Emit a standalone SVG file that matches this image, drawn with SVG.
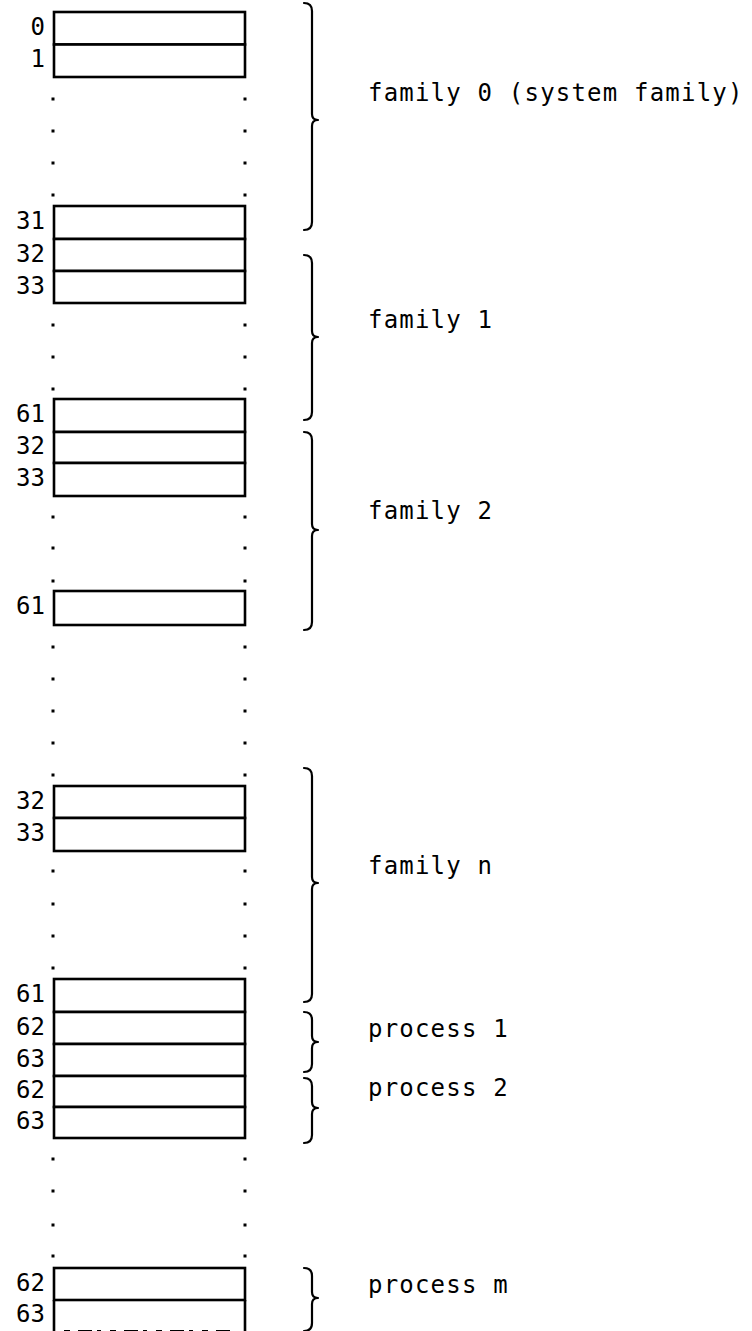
<svg xmlns="http://www.w3.org/2000/svg" width="752" height="1331" viewBox="0 0 752 1331">
<style>
.cell{fill:#fff;stroke:#000;stroke-width:2.6}
.num{font-family:"DejaVu Sans Mono","Liberation Mono",monospace;font-size:24px;text-anchor:end;fill:#000}
.lbl{font-family:"DejaVu Sans Mono","Liberation Mono",monospace;font-size:24px;letter-spacing:1.2px;fill:#000}
.dot{fill:#000}
.brace{fill:none;stroke:#000;stroke-width:2.2;stroke-linecap:round;stroke-linejoin:round}
</style>
<rect width="752" height="1331" fill="#fff"/>
<g id="dots">
<g class="dot">
<rect x="51.5" y="97.5" width="3" height="3"/><rect x="243.5" y="97.5" width="3" height="3"/>
<rect x="51.5" y="129.5" width="3" height="3"/><rect x="243.5" y="129.5" width="3" height="3"/>
<rect x="51.5" y="161.5" width="3" height="3"/><rect x="243.5" y="161.5" width="3" height="3"/>
<rect x="51.5" y="193.5" width="3" height="3"/><rect x="243.5" y="193.5" width="3" height="3"/>
<rect x="51.5" y="323.5" width="3" height="3"/><rect x="243.5" y="323.5" width="3" height="3"/>
<rect x="51.5" y="355.5" width="3" height="3"/><rect x="243.5" y="355.5" width="3" height="3"/>
<rect x="51.5" y="387.5" width="3" height="3"/><rect x="243.5" y="387.5" width="3" height="3"/>
<rect x="51.5" y="515.5" width="3" height="3"/><rect x="243.5" y="515.5" width="3" height="3"/>
<rect x="51.5" y="546.5" width="3" height="3"/><rect x="243.5" y="546.5" width="3" height="3"/>
<rect x="51.5" y="579.5" width="3" height="3"/><rect x="243.5" y="579.5" width="3" height="3"/>
<rect x="51.5" y="645.5" width="3" height="3"/><rect x="243.5" y="645.5" width="3" height="3"/>
<rect x="51.5" y="677.5" width="3" height="3"/><rect x="243.5" y="677.5" width="3" height="3"/>
<rect x="51.5" y="709.5" width="3" height="3"/><rect x="243.5" y="709.5" width="3" height="3"/>
<rect x="51.5" y="741.5" width="3" height="3"/><rect x="243.5" y="741.5" width="3" height="3"/>
<rect x="51.5" y="773.5" width="3" height="3"/><rect x="243.5" y="773.5" width="3" height="3"/>
<rect x="51.5" y="869.5" width="3" height="3"/><rect x="243.5" y="869.5" width="3" height="3"/>
<rect x="51.5" y="902.5" width="3" height="3"/><rect x="243.5" y="902.5" width="3" height="3"/>
<rect x="51.5" y="934.5" width="3" height="3"/><rect x="243.5" y="934.5" width="3" height="3"/>
<rect x="51.5" y="966.5" width="3" height="3"/><rect x="243.5" y="966.5" width="3" height="3"/>
<rect x="51.5" y="1157.5" width="3" height="3"/><rect x="243.5" y="1157.5" width="3" height="3"/>
<rect x="51.5" y="1189.5" width="3" height="3"/><rect x="243.5" y="1189.5" width="3" height="3"/>
<rect x="51.5" y="1223.5" width="3" height="3"/><rect x="243.5" y="1223.5" width="3" height="3"/>
<rect x="51.5" y="1254.5" width="3" height="3"/><rect x="243.5" y="1254.5" width="3" height="3"/>
</g>
</g>
<g id="group-family0-top">
<rect class="cell" x="54" y="12" width="191" height="32.5"/>
<rect class="cell" x="54" y="44.5" width="191" height="32.5"/>
<text class="num" x="45" y="35">0</text>
<text class="num" x="45" y="67">1</text>
</g>
<g id="group-31-33">
<rect class="cell" x="54" y="206" width="191" height="33"/>
<rect class="cell" x="54" y="239" width="191" height="32"/>
<rect class="cell" x="54" y="271" width="191" height="32"/>
<text class="num" x="45" y="229">31</text>
<text class="num" x="45" y="262">32</text>
<text class="num" x="45" y="294">33</text>
</g>
<g id="group-61-33">
<rect class="cell" x="54" y="399" width="191" height="33"/>
<rect class="cell" x="54" y="432" width="191" height="31"/>
<rect class="cell" x="54" y="463" width="191" height="33"/>
<text class="num" x="45" y="422">61</text>
<text class="num" x="45" y="454">32</text>
<text class="num" x="45" y="486">33</text>
</g>
<g id="group-61b">
<rect class="cell" x="54" y="591" width="191" height="34"/>
<text class="num" x="45" y="614">61</text>
</g>
<g id="group-32-33n">
<rect class="cell" x="54" y="786" width="191" height="32"/>
<rect class="cell" x="54" y="818" width="191" height="33"/>
<text class="num" x="45" y="809">32</text>
<text class="num" x="45" y="841">33</text>
</g>
<g id="group-61-63">
<rect class="cell" x="54" y="979" width="191" height="33"/>
<rect class="cell" x="54" y="1012" width="191" height="32"/>
<rect class="cell" x="54" y="1044" width="191" height="32"/>
<rect class="cell" x="54" y="1076" width="191" height="31"/>
<rect class="cell" x="54" y="1107" width="191" height="31"/>
<text class="num" x="45" y="1002">61</text>
<text class="num" x="45" y="1035">62</text>
<text class="num" x="45" y="1067">63</text>
<text class="num" x="45" y="1098">62</text>
<text class="num" x="45" y="1129">63</text>
</g>
<g id="group-process-m">
<rect class="cell" x="54" y="1268" width="191" height="32"/>
<path d="M54 1300 V1332 M245 1300 V1332" fill="none" stroke="#000" stroke-width="2.6"/>
<line x1="64" y1="1330.5" x2="230" y2="1330.5" stroke="#000" stroke-width="1.2" stroke-dasharray="6 8 14 5 4 9"/>
<text class="num" x="45" y="1291">62</text>
<text class="num" x="45" y="1322">63</text>
</g>
<g id="braces">
<path class="brace" d="M304 3 Q312 3 312 11 L312 114 Q312 120 318 120 Q312 120 312 126 L312 222 Q312 230 304 230"/>
<path class="brace" d="M304 255 Q312 255 312 263 L312 331 Q312 337 318 337 Q312 337 312 343 L312 412 Q312 420 304 420"/>
<path class="brace" d="M304 432 Q312 432 312 440 L312 524 Q312 530 318 530 Q312 530 312 536 L312 622 Q312 630 304 630"/>
<path class="brace" d="M304 768 Q312 768 312 776 L312 877 Q312 883 318 883 Q312 883 312 889 L312 994 Q312 1002 304 1002"/>
<path class="brace" d="M304 1012 Q312 1012 312 1020 L312 1036 Q312 1042 318 1042 Q312 1042 312 1048 L312 1064 Q312 1072 304 1072"/>
<path class="brace" d="M304 1078 Q312 1078 312 1086 L312 1102 Q312 1108 318 1108 Q312 1108 312 1114 L312 1135 Q312 1143 304 1143"/>
<path class="brace" d="M304 1268 Q312 1268 312 1276 L312 1292 Q312 1298 318 1298 Q312 1298 312 1304 L312 1323 Q312 1331 304 1331"/>
</g>
<g id="labels">
<text class="lbl" x="368" y="101">family 0 (system family)</text>
<text class="lbl" x="368" y="328">family 1</text>
<text class="lbl" x="368" y="519">family 2</text>
<text class="lbl" x="368" y="874">family n</text>
<text class="lbl" x="368" y="1037">process 1</text>
<text class="lbl" x="368" y="1096">process 2</text>
<text class="lbl" x="368" y="1293">process m</text>
</g>
</svg>
